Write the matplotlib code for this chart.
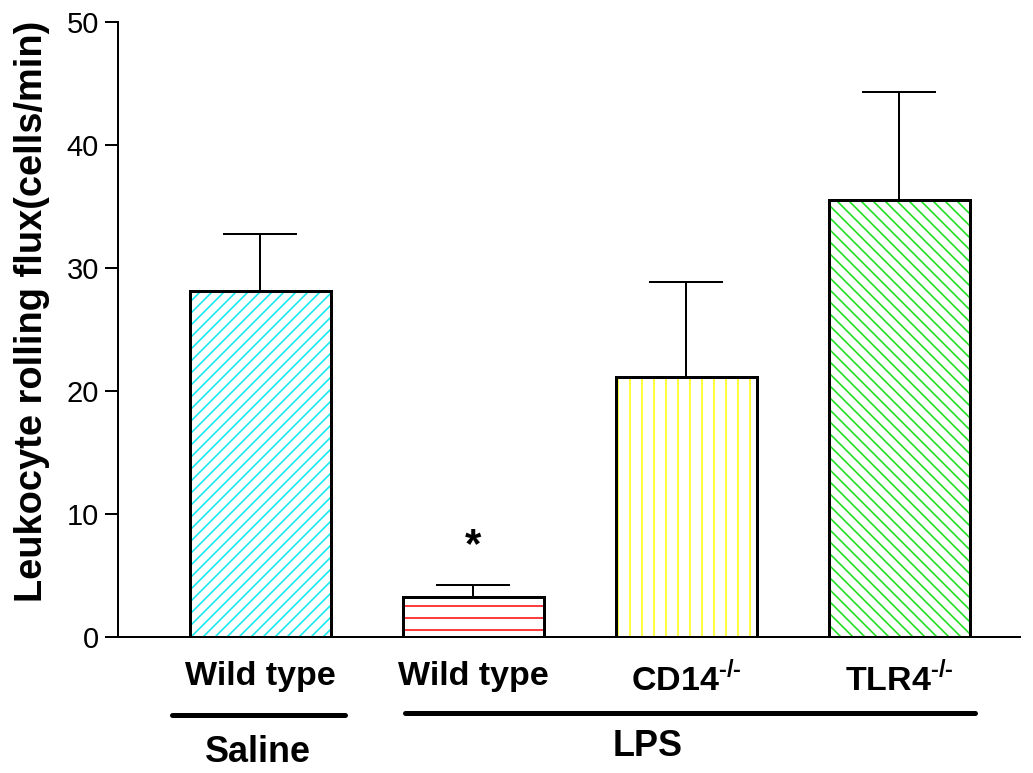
import matplotlib
matplotlib.use("Agg")
import matplotlib.pyplot as plt
import matplotlib.transforms as mtransforms
from matplotlib.lines import Line2D

plt.rcParams['font.family'] = ['Liberation Sans', 'DejaVu Sans']
plt.rcParams['mathtext.fontset'] = 'custom'
plt.rcParams['mathtext.rm'] = 'Liberation Sans:bold'
plt.rcParams['mathtext.bf'] = 'Liberation Sans:bold'
plt.rcParams['hatch.linewidth'] = 1.6

categories = ['Wild type', 'Wild type', r'CD14$^{\text{-/-}}$', r'TLR4$^{\text{-/-}}$']
means = [28.1, 3.25, 21.1, 35.5]
sem_upper = [4.7, 0.95, 7.8, 8.8]
hatch_colors = ['#12e8ef', '#ff1010', '#ffff10', '#18e018']
hatches = ['//', '-', '|', '\\\\']
yticks = [0, 10, 20, 30, 40, 50]

DPI = 72
fig = plt.figure(figsize=(1033 / DPI, 773 / DPI), dpi=DPI)
ax = fig.add_axes([118 / 1033, 1 - 637 / 773, (1020 - 118) / 1033, (637 - 22) / 773])

x = list(range(len(means)))
width = 0.663

ax.errorbar(x, means, yerr=[[0] * len(means), sem_upper], fmt='none', ecolor='black',
            elinewidth=2, capsize=37, capthick=2, zorder=1)
ax.bar(x, means, width=width, color='white', edgecolor=hatch_colors, hatch=hatches,
       linewidth=0, zorder=2)
ax.bar(x, means, width=width, fill=False, edgecolor='black', linewidth=3, zorder=3)

ax.set_xlim(-0.669, 3.566)
ax.set_ylim(0, 50)
ax.set_yticks(yticks)
ax.set_yticklabels([str(v) for v in yticks], fontsize=29)
ax.set_xticks(x)
ax.set_xticklabels(categories, fontsize=34, fontweight='bold')
ax.tick_params(axis='x', length=0, pad=24)
ax.tick_params(axis='y', length=13, width=2, pad=6)
for s in ['top', 'right']:
    ax.spines[s].set_visible(False)
for s in ['left', 'bottom']:
    ax.spines[s].set_linewidth(2)

ax.set_ylabel('Leukocyte rolling flux(cells/min)', fontsize=38, fontweight='bold')
ax.yaxis.set_label_coords(-0.0754, 0.530)

ax.text(1, 7.4, '*', ha='center', va='center', fontsize=42, fontweight='bold')

trans = mtransforms.blended_transform_factory(ax.transData, fig.transFigure)
fig.add_artist(Line2D([-0.415, 0.397], [1 - 715 / 773] * 2, transform=trans,
                      color='black', linewidth=5, solid_capstyle='round'))
fig.add_artist(Line2D([0.678, 3.354], [1 - 713 / 773] * 2, transform=trans,
                      color='black', linewidth=5, solid_capstyle='round'))
fig.text(-0.01, 1 - 752 / 773, 'Saline', transform=trans, ha='center', va='center',
         fontsize=36, fontweight='bold')
fig.text(1.82, 1 - 746 / 773, 'LPS', transform=trans, ha='center', va='center',
         fontsize=36, fontweight='bold')

fig.savefig('out.png', dpi=DPI)
